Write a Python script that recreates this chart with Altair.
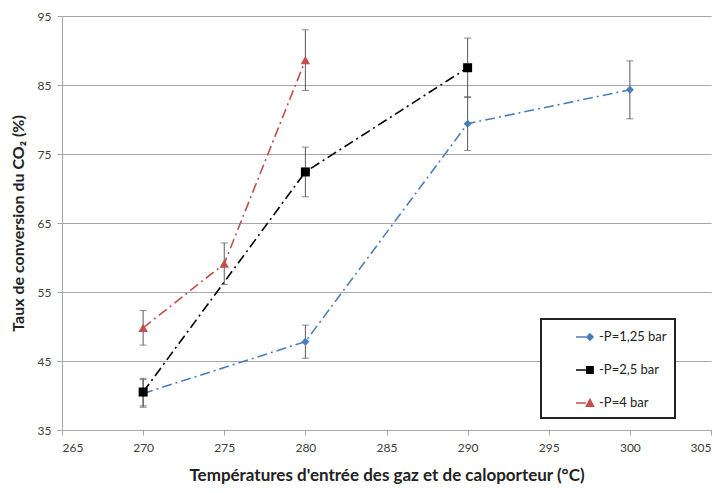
import altair as alt
import pandas as pd

# ---- data ----
series_names = ["-P=1,25 bar", "-P=2,5 bar", "-P=4 bar"]
series_colors = ["#4a7ebb", "#000000", "#c0504d"]

temps_125 = [270, 280, 290, 300]
conv_125 = [40.3, 47.8, 79.4, 84.3]
err_125 = [2.0, 2.4, 3.9, 4.2]

temps_25 = [270, 280, 290]
conv_25 = [40.5, 72.4, 87.5]
err_25 = [2.0, 3.6, 4.3]

temps_4 = [270, 275, 280]
conv_4 = [49.8, 59.1, 88.6]
err_4 = [2.5, 3.0, 4.4]

x_ticks = [265, 270, 275, 280, 285, 290, 295, 300, 305]
y_ticks = [35, 45, 55, 65, 75, 85, 95]

rows = []
for name, ts, cs, es in zip(series_names,
                            [temps_125, temps_25, temps_4],
                            [conv_125, conv_25, conv_4],
                            [err_125, err_25, err_4]):
    for i, (t, c, e) in enumerate(zip(ts, cs, es)):
        rows.append({"serie": name, "T": t, "conv": c, "lo": c - e, "hi": c + e, "order": i})
df = pd.DataFrame(rows)

FONT = "Lato"
xs = alt.Scale(domain=[265, 305], nice=False, zero=False)
ys = alt.Scale(domain=[35, 95], nice=False, zero=False)

base = alt.Chart(df)

x_enc = alt.X("T:Q", scale=xs,
              axis=alt.Axis(values=x_ticks, grid=False, title="Températures d'entrée des gaz et de caloporteur (°C)",
                            titleFontSize=17, titleFontWeight="bold", titleColor="#222", titleFont=FONT,
                            titlePadding=14, labelPadding=7, tickSize=5, labelFont=FONT,
                            labelFontSize=12, labelColor="#404040", domainColor="#a6a6a6", tickColor="#a6a6a6"))
y_enc = alt.Y("conv:Q", scale=ys,
              axis=alt.Axis(values=y_ticks, grid=True, title="Taux de conversion du CO₂ (%)",
                            titleFontSize=16, titleFontWeight="bold", titleColor="#222", titleFont=FONT,
                            titlePadding=11, labelPadding=6, tickSize=5, labelFont=FONT,
                            labelFontSize=12, labelColor="#404040", domainColor="#a6a6a6", tickColor="#a6a6a6",
                            gridColor="#a6a6a6"))

err_rule = base.mark_rule(color="#595959", strokeWidth=1).encode(
    x=alt.X("T:Q", scale=xs), y=alt.Y("lo:Q", scale=ys), y2="hi:Q")
cap_lo = base.mark_tick(color="#595959", thickness=1, size=7, orient="horizontal").encode(
    x=alt.X("T:Q", scale=xs), y=alt.Y("lo:Q", scale=ys))
cap_hi = base.mark_tick(color="#595959", thickness=1, size=7, orient="horizontal").encode(
    x=alt.X("T:Q", scale=xs), y=alt.Y("hi:Q", scale=ys))

leg_shapes = [
    "M-1,0H0.1M0.55,-0.35L0.9,0L0.55,0.35L0.2,0Z",
    "M-1,0H0.1M0.2,-0.35H0.9V0.35H0.2Z",
    "M-1,0H0.1M0.55,-0.4L0.95,0.35H0.15Z",
]
legend = alt.Legend(title=None, orient="none", legendX=479, legendY=303,
                    strokeColor="#222", fillColor="white",
                    padding=8, symbolOffset=26, symbolSize=324, symbolStrokeWidth=1.5,
                    symbolOpacity=1,
                    rowPadding=16, labelFontSize=13, labelColor="#222",
                    labelFont=FONT, labelOffset=4,
                    labelExpr="datum.label + '\u00a0\u00a0\u00a0\u00a0\u00a0\u00a0\u00a0\u00a0\u00a0'")

lines = base.mark_line(strokeWidth=1.6, strokeDash=[10, 4, 2, 4]).encode(
    x=x_enc, y=y_enc,
    stroke=alt.Stroke("serie:N", scale=alt.Scale(domain=series_names, range=series_colors), legend=legend),
    detail="serie:N", order="order:Q")

diamond = "M0,-1L1,0L0,1L-1,0Z"
pts_b = base.transform_filter(alt.datum.serie == series_names[0]).mark_point(
    shape=diamond, filled=True, size=64, opacity=1, color=series_colors[0]).encode(
    x=alt.X("T:Q", scale=xs), y=alt.Y("conv:Q", scale=ys))
pts_k = base.transform_filter(alt.datum.serie == series_names[1]).mark_point(
    shape="square", filled=True, size=81, opacity=1, color=series_colors[1]).encode(
    x=alt.X("T:Q", scale=xs), y=alt.Y("conv:Q", scale=ys))
pts_r = base.transform_filter(alt.datum.serie == series_names[2]).mark_point(
    shape="triangle-up", filled=True, size=90, opacity=1, color=series_colors[2]).encode(
    x=alt.X("T:Q", scale=xs), y=alt.Y("conv:Q", scale=ys))

leg_layer = base.mark_point(filled=True, size=0, opacity=1).encode(
    x=alt.X("T:Q", scale=xs), y=alt.Y("conv:Q", scale=ys),
    fill=alt.Fill("serie:N", scale=alt.Scale(domain=series_names, range=series_colors), legend=legend),
    shape=alt.Shape("serie:N", scale=alt.Scale(domain=series_names, range=leg_shapes), legend=legend))

chart = alt.layer(lines, err_rule, cap_lo, cap_hi, pts_b, pts_k, pts_r, leg_layer).properties(
    width=649, height=414,
    background="white",
    autosize=alt.AutoSizeParams(type="none"),
    padding={"left": 54, "top": 8, "right": 4, "bottom": 58},
).configure_view(stroke=None).configure_legend(strokeWidth=2)

chart.save("out.html", embed_options={"renderer": "svg", "actions": False})
